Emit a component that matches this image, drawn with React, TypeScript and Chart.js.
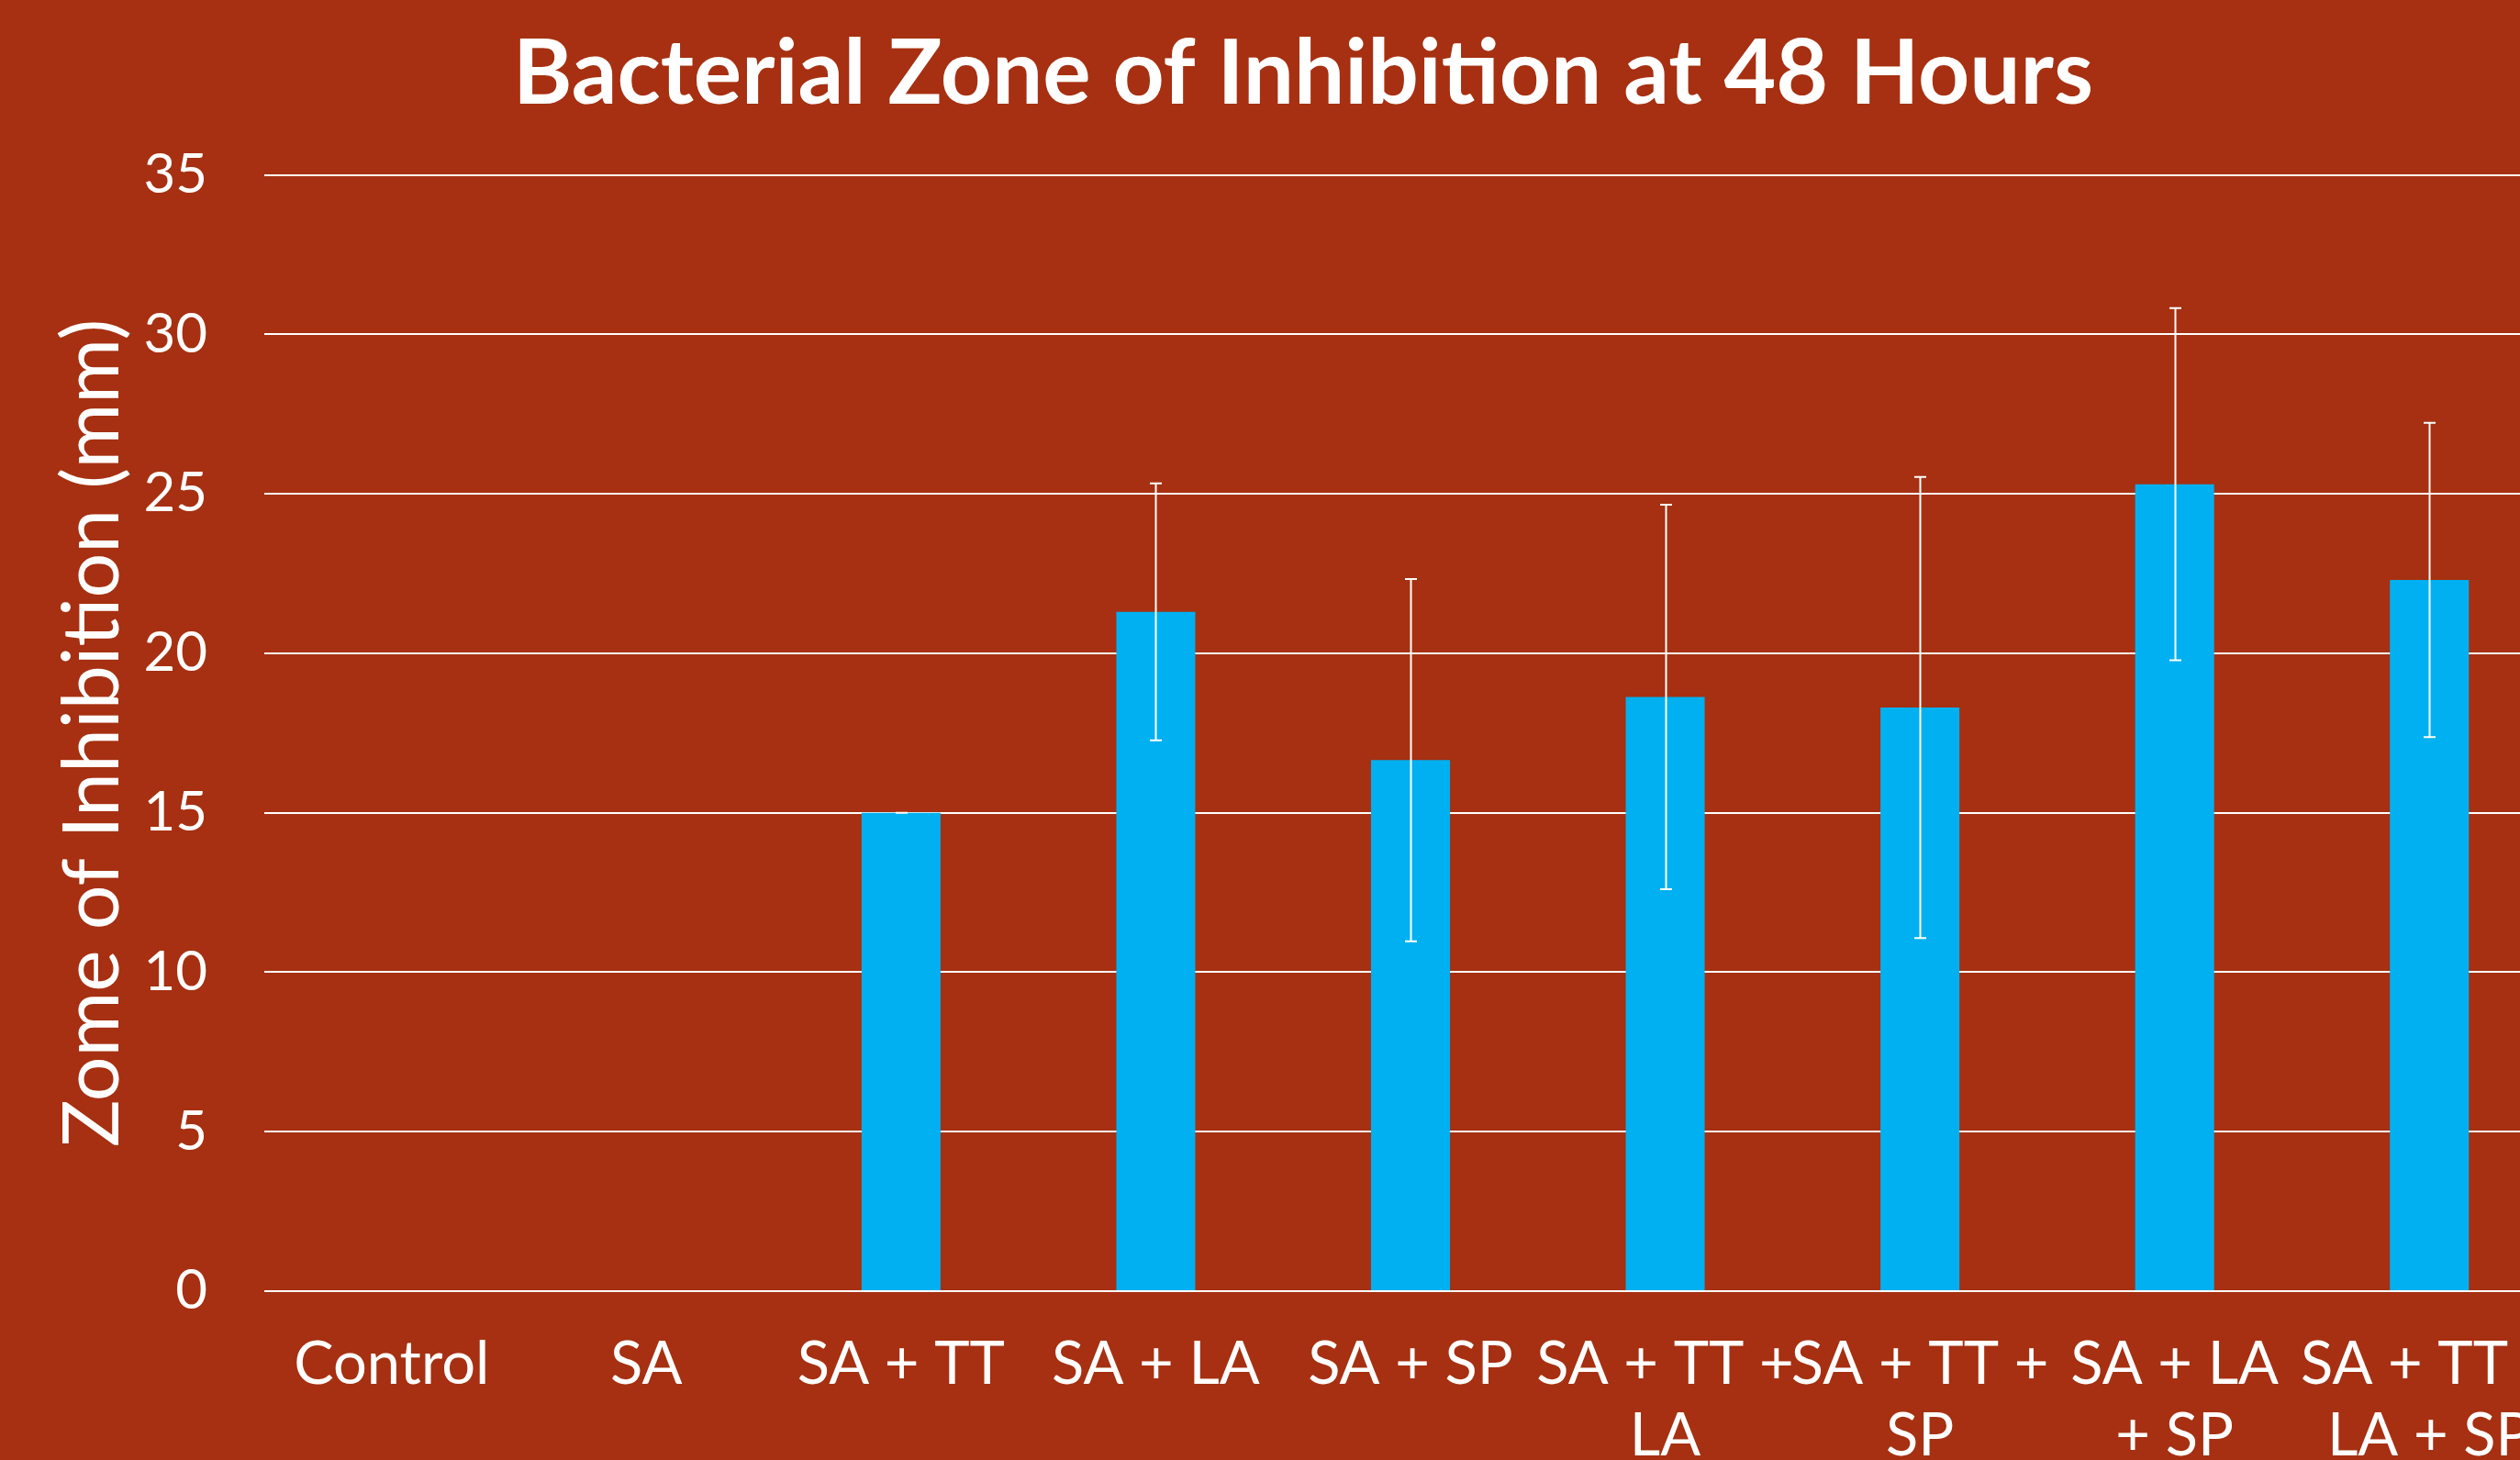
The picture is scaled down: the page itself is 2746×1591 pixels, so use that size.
import React, { useEffect, useRef } from "react";
import { Chart, registerables } from "chart.js";

Chart.register(...registerables);

const chartTitle = "Bacterial Zone of Inhibition at 48 Hours";
const yAxisTitle = "Zome of Inhibition (mm)";
const categories: string[][] = [
  ["Control"],
  ["SA"],
  ["SA + TT"],
  ["SA + LA"],
  ["SA + SP"],
  ["SA + TT +", "LA"],
  ["SA + TT +", "SP"],
  ["SA + LA", "+ SP"],
  ["SA + TT +", "LA + SP"],
];
const meanValues: number[] = [0, 0, 15.0, 21.3, 16.65, 18.63, 18.3, 25.3, 22.3];
const errorValues: (number | null)[] = [null, null, 0, 4.03, 5.68, 6.03, 7.23, 5.52, 4.93];
const yMin = 0;
const yMax = 35;
const yStep = 5;

const BG = "#A63011";
const BAR = "#00B0F0";
const FONT = "Lato";

const CANVAS_W = 2786;
const CANVAS_H = 1620;

const errorBarPlugin = {
  id: "errorBars",
  afterDatasetsDraw(chart: any) {
    const meta = chart.getDatasetMeta(0);
    const yScale = chart.scales.y;
    const ctx = chart.ctx;
    ctx.save();
    ctx.strokeStyle = "#FFFFFF";
    ctx.lineWidth = 2;
    meta.data.forEach((bar: any, i: number) => {
      const err = errorValues[i];
      if (err === null || err === undefined) return;
      const v = meanValues[i];
      const x = Math.round(bar.x) + 0.5;
      const yTop = yScale.getPixelForValue(v + err);
      const yBot = yScale.getPixelForValue(v - err);
      const cap = 6.5;
      ctx.beginPath();
      ctx.moveTo(x, yTop);
      ctx.lineTo(x, yBot);
      ctx.moveTo(x - cap, yTop);
      ctx.lineTo(x + cap, yTop);
      ctx.moveTo(x - cap, yBot);
      ctx.lineTo(x + cap, yBot);
      ctx.stroke();
    });
    ctx.restore();
  },
};

const bgPlugin = {
  id: "bgFill",
  beforeDraw(chart: any) {
    const ctx = chart.ctx;
    ctx.save();
    ctx.fillStyle = BG;
    ctx.fillRect(0, 0, chart.width, chart.height);
    ctx.restore();
  },
};

export default function App() {
  const canvasRef = useRef<HTMLCanvasElement | null>(null);

  useEffect(() => {
    if (!canvasRef.current) return;
    const chart = new Chart(canvasRef.current, {
      type: "bar",
      data: {
        labels: categories,
        datasets: [
          {
            label: "Zone of Inhibition",
            data: meanValues,
            backgroundColor: BAR,
            borderWidth: 0,
            barPercentage: 0.31,
            categoryPercentage: 1,
          },
        ],
      },
      options: {
        responsive: false,
        animation: false,
        devicePixelRatio: 1,
        layout: { padding: { left: 54, right: 0, top: 0, bottom: 0 } },
        plugins: {
          legend: { display: false },
          tooltip: { enabled: false },
          title: {
            display: true,
            text: chartTitle,
            color: "#FFFFFF",
            font: { family: FONT, size: 98, weight: "bold", lineHeight: 1.2 },
            padding: { top: 23, bottom: 50 },
          },
        },
        scales: {
          x: {
            grid: { display: false, drawTicks: false },
            border: { display: false },
            ticks: {
              color: "#FFFFFF",
              font: { family: FONT, size: 65, lineHeight: 1.2 },
              padding: 41,
              maxRotation: 0,
              minRotation: 0,
              autoSkip: false,
            },
            afterFit: (scale: any) => {
              scale.height = CANVAS_H - 1407;
              scale.paddingLeft = 0;
              scale.paddingRight = 0;
            },
          },
          y: {
            min: yMin,
            max: yMax,
            grid: { color: "#FFFFFF", lineWidth: 2, drawTicks: false },
            border: { display: false },
            ticks: {
              stepSize: yStep,
              color: "#FFFFFF",
              font: { family: FONT, size: 60 },
              padding: 62,
            },
            title: {
              display: true,
              text: yAxisTitle,
              color: "#FFFFFF",
              font: { family: FONT, size: 86, lineHeight: 1.1 },
              padding: { top: 0, bottom: 0 },
            },
            afterFit: (scale: any) => {
              scale.width = 234;
            },
          },
        },
      },
      plugins: [bgPlugin, errorBarPlugin],
    });
    return () => chart.destroy();
  }, []);

  return (
    <div
      style={{
        position: "fixed",
        left: 0,
        top: 0,
        width: "100vw",
        height: "100vh",
        overflow: "hidden",
        background: BG,
      }}
    >
      <canvas
        ref={canvasRef}
        width={CANVAS_W}
        height={CANVAS_H}
        style={{ display: "block", width: CANVAS_W, height: CANVAS_H }}
      />
    </div>
  );
}
